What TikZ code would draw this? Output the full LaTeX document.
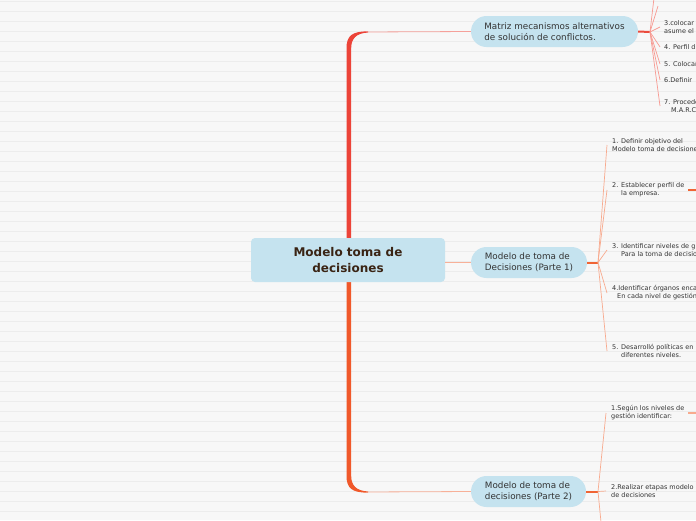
\documentclass[tikz,border=0pt]{standalone}
\usepackage{fontspec}
\setmainfont{DejaVu Sans}
\definecolor{bgc}{HTML}{F7F7F7}
\definecolor{rulec}{HTML}{ECECEC}
\definecolor{nodeblue}{HTML}{C5E3EF}
\definecolor{maintext}{HTML}{3A2414}
\definecolor{txt}{HTML}{333333}
\definecolor{trunkred}{HTML}{EC4338}
\definecolor{trunkorange}{HTML}{F0582A}
\definecolor{thinred}{HTML}{F5A09A}
\definecolor{thinorange}{HTML}{F7B098}
\definecolor{fanred}{HTML}{F79A92}
\definecolor{fanorange}{HTML}{F8AA8E}
\definecolor{hubred}{HTML}{EA4A3C}
\definecolor{huborange}{HTML}{F06434}
\tikzset{
  central/.style={rounded corners=4pt, fill=nodeblue, minimum width=194pt, minimum height=44pt,
    align=center, text=maintext, font=\fontsize{12}{16}\selectfont\bfseries, inner sep=0pt},
  topic/.style={rounded corners=15.5pt, fill=nodeblue, minimum height=31pt,
    align=left, text=txt, font=\fontsize{8.8}{11}\selectfont, inner sep=0pt},
  sub/.style={anchor=west, align=left, text=txt, font=\fontsize{6.5}{8}\selectfont, inner sep=0pt},
  thinline/.style={line width=0.8pt},
  fanline/.style={line width=0.7pt},
  hubline/.style={line width=2pt},
}
\begin{document}
\begin{tikzpicture}[x=1pt,y=-1pt]
\clip (0,0) rectangle (696,520);
\fill[bgc] (0,0) rectangle (696,520);
\foreach \k in {0,...,52} {
  \draw[rulec, line width=0.8pt] (0,1+10*\k) -- (696,1+10*\k);
}
% trunk
\fill[trunkred] (346.5,262) -- (346.5,48) .. controls (346.5,36) and (352,31.2) .. (368,31.4)
  -- (368,32.6) .. controls (356,33) and (351.2,39) .. (351.2,48) -- (351.2,262) -- cycle;
\fill[trunkorange] (346.5,262) -- (346.5,476) .. controls (346.5,488) and (352,492.8) .. (368,492.6)
  -- (368,491.4) .. controls (356,491) and (351.2,485) .. (351.2,476) -- (351.2,262) -- cycle;

% nodes
\node[central] (c) at (348,260) {Modelo toma de\\decisiones};
\node[topic, minimum width=167pt] (t1) at (554.5,31.5) {Matriz mecanismos alternativos\\de solución de conflictos.};
\node[topic, minimum width=116pt] (t2) at (529,262.5) {Modelo de toma de\\Decisiones (Parte 1)};
\node[topic, minimum width=115pt] (t3) at (528.5,491.5) {Modelo de toma de\\decisiones (Parte 2)};

\coordinate (k1) at (366,32);
\coordinate (k3) at (366,492);
\draw[thinred, thinline] (k1) -- (t1.west);
\draw[thinorange, thinline] (c.east |- t2.west) -- (t2.west);
\draw[thinorange, thinline] (k3) -- (t3.west);

% hubs
\coordinate (h1) at (650,32);
\coordinate (h2) at (598,262.5);
\coordinate (h3) at (598,491.5);
\draw[hubred, hubline] (t1.east) -- (h1);
\draw[huborange, hubline] (t2.east) -- (h2);
\draw[huborange, hubline] (t3.east) -- (h3);

% topic 1 children
\node[sub] (a3) at (664,27) {3.colocar\\asume el};
\node[sub] (a4) at (664,47) {4. Perfil d};
\node[sub] (a5) at (664,64) {5. Colocar};
\node[sub] (a6) at (664,80) {6.Definir};
\node[sub] (a7) at (664,106) {7. Procede\\\hspace*{7pt}M.A.R.C};
\coordinate (a1) at (654,-2);
\coordinate (a2) at (658,6);
\foreach \n in {a1,a2} \draw[fanred, fanline] (h1) -- (\n);
\foreach \n in {a3,a4,a5,a6,a7} \draw[fanred, fanline] (h1) -- ([xshift=-4pt]\n.west);

% topic 2 children
\node[sub] (b1) at (612,145) {1. Definir objetivo del\\Modelo toma de decisiones};
\node[sub] (b2) at (612,190) {2. Establecer perfil de\\\hspace*{9pt}la empresa.};
\node[sub] (b3) at (612,250) {3. Identificar niveles de g\\\hspace*{9pt}Para la toma de decisio};
\node[sub] (b4) at (612,293) {4.Identificar órganos enca\\\hspace*{5pt}En cada nivel de gestión};
\node[sub] (b5) at (612,351) {5. Desarrolló políticas en\\\hspace*{9pt}diferentes niveles.};
\foreach \n in {b1,b2,b3,b4,b5} \draw[fanorange, fanline] (h2) -- ([xshift=-5pt]\n.west);
\coordinate (b2e) at (688,190);
\coordinate (b2f) at (698,190);
\draw[huborange, line width=1.2pt] (b2e) -- (b2f);

% topic 3 children
\node[sub] (d1) at (611,413) {1.Según los niveles de\\gestión identificar:};
\node[sub] (d2) at (611,491) {2.Realizar etapas modelo\\de decisiones};
\coordinate (d3) at (601,522);
\draw[fanorange, fanline] (h3) -- ([xshift=-5pt]d1.west);
\draw[fanorange, fanline] (h3) -- ([xshift=-5pt]d2.west);
\draw[fanorange, fanline] (h3) -- (d3);
\coordinate (d1e) at (688,413);
\coordinate (d1f) at (698,413);
\draw[fanorange, line width=1.2pt] (d1e) -- (d1f);
\end{tikzpicture}
\end{document}
